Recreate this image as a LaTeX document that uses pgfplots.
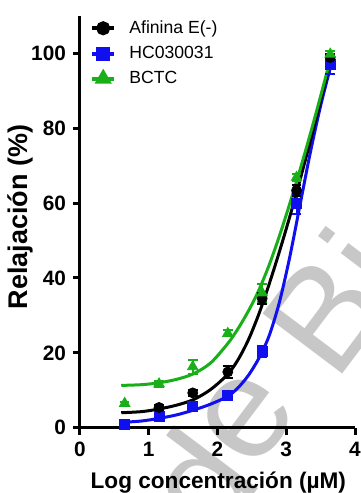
\documentclass[border=0pt]{standalone}
\usepackage{fontspec}
\setmainfont{Liberation Sans}
\usepackage{pgfplots}
\pgfplotsset{compat=1.18}
\definecolor{myblue}{RGB}{15,15,240}
\definecolor{mygreen}{RGB}{25,175,25}
\begin{document}
\begin{tikzpicture}
\clip (-40pt,-32.65pt) rectangle (140pt,213.85pt);
\begin{scope}[every node/.style={rotate=53, anchor=center, inner sep=0pt, text=black!22, font=\fontsize{72.5}{80}\selectfont}]
\node at (59.4pt,-27.3pt) {d};
\node at (83.7pt,4.9pt) {e};
\node at (122.5pt,56.4pt) {B};
\node at (141.9pt,82.1pt) {i};
\end{scope}
\begin{axis}[
  at={(0pt,0pt)}, anchor=south west,
  scale only axis, width=137.5pt, height=205.85pt,
  xmin=0, xmax=4, ymin=0, ymax=110,
  axis lines*=left,
  axis line style={line width=1.5pt},
  tick align=outside,
  major tick length=3.5pt,
  every tick/.style={black, line width=1.5pt},
  xtick={0,1,2,3,4}, ytick={0,20,40,60,80,100},
  tick label style={font=\bfseries\fontsize{10.4}{12}\selectfont},
  /pgf/number format/assume math mode=true,
  xlabel={Log concentración (µM)},
  ylabel={Relajación (\%)},
  xlabel style={font=\bfseries\fontsize{11.3}{13}\selectfont, at={(axis description cs:0.503,-0.147)}, anchor=base},
  ylabel style={font=\bfseries\fontsize{13.5}{15}\selectfont, at={(axis description cs:-0.216,0.512)}, anchor=center},
  legend image code/.code={\draw[mark repeat=2, mark phase=2, #1] plot coordinates {(0pt,0pt) (5.6pt,0pt) (11.2pt,0pt)};},
  legend style={at={(axis description cs:0.035,1.0)}, anchor=north west, draw=none, fill=none,
    font=\fontsize{8.8}{10}\selectfont, row sep=0.9pt, inner sep=0pt,
    /tikz/every odd column/.append style={column sep=4.5pt}},
  legend cell align=left,
  clip=false,
]
\addlegendimage{black, line width=2pt, mark=*, mark size=2.5pt}
\addlegendentry{Afinina E(-)}
\addlegendimage{myblue, line width=2pt, mark=square*, mark size=2.5pt}
\addlegendentry{HC030031}
\addlegendimage{mygreen, line width=2pt, mark=triangle*, mark size=3pt}
\addlegendentry{BCTC}

% fitted curves
\addplot[myblue, line width=1.5pt, smooth, no marks, forget plot] coordinates {
(0.6,1.4) (0.9,1.8) (1.15,2.5) (1.4,3.4) (1.65,4.7) (1.9,6.3) (2.15,8.4) (2.3,10.7)
(2.45,14.0) (2.6,18.5) (2.75,24.5) (2.9,33.5) (3.05,45.5) (3.2,59.5) (3.35,73.5) (3.5,86) (3.66,97.5)};
\addplot[black, line width=1.5pt, smooth, no marks, forget plot] coordinates {
(0.6,4.0) (0.9,4.3) (1.15,5.0) (1.4,6.0) (1.65,7.5) (1.9,10.2) (2.15,14.3) (2.3,18.2)
(2.45,23.5) (2.6,30.3) (2.75,38.3) (2.9,47.0) (3.05,56.3) (3.2,66.2) (3.35,76.6) (3.5,87.5) (3.66,99)};
\addplot[mygreen, line width=1.5pt, smooth, no marks, forget plot] coordinates {
(0.6,11.3) (0.9,11.5) (1.15,12.0) (1.4,12.9) (1.65,14.4) (1.9,17.3) (2.15,22.5) (2.3,26.5)
(2.45,31.2) (2.6,36.7) (2.75,43.4) (2.9,51.2) (3.05,59.8) (3.2,68.9) (3.35,78.5) (3.5,88.6) (3.66,99.8)};

% data points
\addplot[myblue, only marks, mark=square*, mark size=2.5pt, forget plot,
  error bars/.cd, y dir=both, y explicit,
  error bar style={line width=1pt, myblue},
  error mark options={rotate=90, mark size=2.4pt, line width=1pt, myblue}]
  coordinates {
  (0.65,1.0) +- (0,0.5)
  (1.15,2.9) +- (0,1.2)
  (1.64,5.6) +- (0,0.8)
  (2.15,8.5) +- (0,0.6)
  (2.65,20.3) +- (0,1.5)
  (3.15,59.8) +- (0,2.6)
  (3.64,97.0) +- (0,2.5)};
\addplot[black, only marks, mark=*, mark size=2.5pt, forget plot,
  error bars/.cd, y dir=both, y explicit,
  error bar style={line width=1pt, black},
  error mark options={rotate=90, mark size=2.4pt, line width=1pt, black}]
  coordinates {
  (1.15,5.4) +- (0,0.6)
  (1.64,9.3) +- (0,0.8)
  (2.15,14.9) +- (0,1.6)
  (2.65,34.5) +- (0,1.5)
  (3.15,63.4) +- (0,1.5)
  (3.64,98.9) +- (0,1.0)};
\addplot[mygreen, only marks, mark=triangle*, mark size=3pt, forget plot,
  error bars/.cd, y dir=both, y explicit,
  error bar style={line width=1pt, mygreen},
  error mark options={rotate=90, mark size=2.4pt, line width=1pt, mygreen}]
  coordinates {
  (0.65,6.5) +- (0,0.5)
  (1.15,11.7) +- (0,0.8)
  (1.64,16.3) +- (0,1.9)
  (2.15,25.2) +- (0,0.8)
  (2.65,36.0) +- (0,2.5)
  (3.15,66.9) +- (0,1.0)
  (3.64,99.8) +- (0,0.8)};
\end{axis}
\end{tikzpicture}
\end{document}
